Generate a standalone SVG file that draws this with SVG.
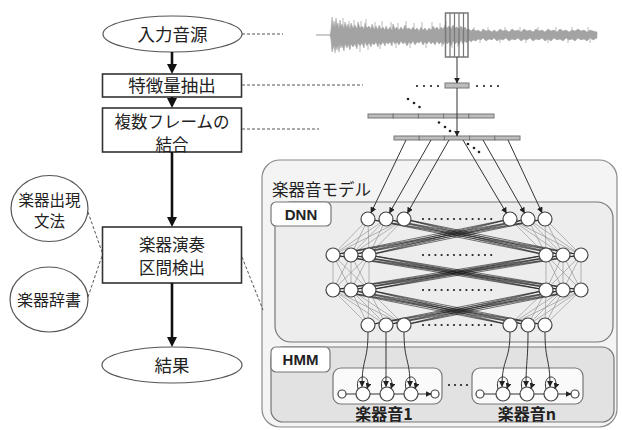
<svg xmlns="http://www.w3.org/2000/svg" width="622" height="430" viewBox="0 0 622 430">
<style>
  .jp{font-family:"Noto Sans CJK JP","Noto Sans CJK SC",sans-serif;fill:#222}
  .lbl{font-family:"Liberation Sans",Arial,sans-serif;font-weight:bold;fill:#222}
  .box{fill:#fff;stroke:#333;stroke-width:1.6}
  .oval{fill:#fff;stroke:#555;stroke-width:1.2}
  .flow{stroke:#111;stroke-width:2.6;fill:none}
  .dash{stroke:#555;stroke-width:1;stroke-dasharray:3 2;fill:none}
  .thin{stroke:#8a8a8a;stroke-width:0.6;fill:none}
  .band{stroke:#1a1a1a;stroke-width:1;stroke-opacity:0.6;fill:none}
  .nd{fill:#fff;stroke:#444;stroke-width:1.2}
  .arr{stroke:#333;stroke-width:1;fill:none}
  .dots{stroke:#222;stroke-width:2.2;stroke-linecap:round;stroke-dasharray:0 6.2;fill:none}
  .seg{fill:#bdbdbd;stroke:#777;stroke-width:1}
</style>
<defs>
  <marker id="big" viewBox="0 0 10 10" refX="5" refY="5" markerWidth="10" markerHeight="10" markerUnits="userSpaceOnUse" orient="auto">
    <path d="M0,0 L10,5 L0,10 z" fill="#111"/>
  </marker>
  <marker id="sm" viewBox="0 0 10 10" refX="9" refY="5" markerWidth="6" markerHeight="6" markerUnits="userSpaceOnUse" orient="auto">
    <path d="M0,0 L10,5 L0,10 z" fill="#222"/>
  </marker>
</defs>

<!-- flowchart on the left -->
<g id="n-input">
  <ellipse class="oval" cx="172.5" cy="34" rx="69.5" ry="18"/>
  <text class="jp" x="172.5" y="40.5" font-size="17.5" text-anchor="middle">入力音源</text>
</g>
<g id="n-feature">
  <rect class="box" x="102.5" y="74" width="139" height="23"/>
  <text class="jp" x="172" y="92" font-size="17.5" text-anchor="middle">特徴量抽出</text>
</g>
<g id="n-concat">
  <rect class="box" x="102.5" y="108" width="139" height="44"/>
  <text class="jp" x="172" y="128" font-size="16.5" text-anchor="middle">複数フレームの</text>
  <text class="jp" x="172" y="151" font-size="16.5" text-anchor="middle">結合</text>
</g>
<g id="n-detect">
  <rect class="box" x="102.5" y="227" width="139" height="56"/>
  <text class="jp" x="172" y="251" font-size="16.5" text-anchor="middle">楽器演奏</text>
  <text class="jp" x="172" y="274" font-size="16.5" text-anchor="middle">区間検出</text>
</g>
<g id="n-result">
  <ellipse class="oval" cx="172" cy="365" rx="70" ry="18"/>
  <text class="jp" x="172" y="372" font-size="17.5" text-anchor="middle">結果</text>
</g>
<g id="n-grammar">
  <ellipse class="oval" cx="49.5" cy="208.5" rx="38.5" ry="33"/>
  <text class="jp" x="49.5" y="206" font-size="15.5" text-anchor="middle">楽器出現</text>
  <text class="jp" x="49.5" y="227" font-size="15.5" text-anchor="middle">文法</text>
</g>
<g id="n-dict">
  <ellipse class="oval" cx="49" cy="299.5" rx="39" ry="32.5"/>
  <text class="jp" x="49" y="306" font-size="16" text-anchor="middle">楽器辞書</text>
</g>

<!-- waveform of the input signal -->
<g id="n-wave">
  <line x1="316" y1="35" x2="331" y2="35" stroke="#999" stroke-width="1"/>
  <path fill="#a3a3a3" stroke="#a3a3a3" stroke-width="0.5" d="M330 35 L331 30 332 17 333 27 334 21 335 28 336 18 337 26 338 23 339 29 340 20 341 27 342 24 344 28 345 22 347 28 348 24 350 29 351 23 353 28 355 25 357 29 358 22 360 28 362 26 364 29 365 23 367 28 369 26 371 29 372 24 374 29 376 26 378 30 379 25 381 29 383 27 385 30 386 26 388 30 390 27 392 30 393 24 395 29 397 27 399 30 401 27 403 30 405 25 407 29 409 28 411 30 413 27 415 30 417 28 419 31 421 27 423 30 425 28 427 31 429 28 431 30 433 26 435 29 437 27 439 30 441 27 443 29 445 25 447 28 449 26 451 29 453 25 455 28 457 27 459 29 461 26 463 29 465 27 467 30 469 29 471 31 473 29 476 31 478 30 481 32 483 29 486 31 489 30 492 32 494 30 497 32 500 29 503 31 506 30 509 32 512 29 515 31 518 30 521 32 524 29 527 31 530 30 533 32 536 29 539 31 542 30 545 32 548 29 551 31 554 30 557 32 560 29 563 31 566 30 569 32 572 30 575 31 578 29 581 31 584 30 587 32 590 30 593 31 597 32 597 38 593 40 590 38 587 41 584 39 581 40 578 38 575 41 572 39 569 40 566 38 563 41 560 39 557 40 554 38 551 41 548 39 545 41 542 38 539 40 536 39 533 41 530 38 527 40 524 39 521 41 518 38 515 40 512 39 509 41 506 38 503 40 500 39 497 41 494 38 492 40 489 39 486 41 483 38 481 40 478 39 476 41 473 40 471 42 469 40 467 43 465 41 463 44 461 40 459 45 457 42 455 44 453 41 451 46 449 42 447 44 445 41 443 45 441 42 439 44 437 41 435 45 433 42 431 44 429 41 427 44 425 42 423 45 421 41 419 43 417 42 415 45 413 41 411 44 409 42 407 46 405 42 403 44 401 41 399 45 397 42 395 44 393 41 392 46 390 42 388 44 386 42 385 46 383 42 381 45 379 43 378 47 376 42 374 45 372 43 371 47 369 43 367 46 365 42 364 48 362 43 360 46 358 43 357 49 355 44 353 47 351 44 350 50 348 44 347 48 345 44 344 51 342 45 341 48 340 44 339 52 338 45 337 50 336 46 335 53 334 45 333 49 332 52 331 40 Z"/>
  <path stroke="#a8a8a8" stroke-width="0.8" fill="none" d="M343 18V26 M349 21V27 M354 20V26 M361 21V27 M366 19V25 M375 22V27 M382 21V27 M391 22V28 M398 23V28 M406 21V27 M414 23V29 M422 22V28 M432 22V28 M440 23V29 M446 21V27 M452 48V43 M360 52V45 M368 50V45 M380 49V44 M396 48V43 M410 48V43 M426 48V43 M442 47V42 M458 47V42 M474 27V31 M488 27V31 M505 27V31 M520 27V31 M538 27V31 M556 27V31 M572 27V31 M588 27V31 M480 43V39 M500 43V39 M526 43V39 M548 43V39 M568 43V39 M590 43V39"/>
  <rect x="445.5" y="13" width="22.5" height="44" fill="none" stroke="#777" stroke-width="1.5"/>
  <path stroke="#777" stroke-width="1.2" d="M450 13V57 M454.5 13V57 M459 13V57 M463.5 13V57"/>
</g>

<!-- feature vectors and frame concatenation -->
<g id="n-frames">
  <rect class="seg" x="445" y="83" width="24" height="5"/>
  <line class="dots" x1="417" y1="86" x2="439" y2="86" style="stroke-dasharray:0 7"/>
  <line class="dots" x1="477" y1="86" x2="499" y2="86" style="stroke-dasharray:0 7"/>
  <g>
    <rect class="seg" x="368" y="114" width="25.2" height="4"/>
    <rect class="seg" x="393.2" y="114" width="25.2" height="4"/>
    <rect class="seg" x="418.4" y="114" width="25.2" height="4"/>
    <rect class="seg" x="443.6" y="114" width="25.2" height="4"/>
    <rect class="seg" x="468.8" y="114" width="25.2" height="4"/>
  </g>
  <g>
    <rect class="seg" x="394" y="136" width="25.2" height="4"/>
    <rect class="seg" x="419.2" y="136" width="25.2" height="4"/>
    <rect class="seg" x="444.4" y="136" width="25.2" height="4"/>
    <rect class="seg" x="469.6" y="136" width="25.2" height="4"/>
    <rect class="seg" x="494.8" y="136" width="25.2" height="4"/>
  </g>
  <g fill="#222">
    <circle cx="408" cy="99" r="1.3"/><circle cx="414" cy="103" r="1.3"/><circle cx="419.5" cy="107" r="1.3"/>
    <circle cx="439" cy="122.5" r="1.3"/><circle cx="445" cy="127" r="1.3"/><circle cx="450" cy="131" r="1.3"/>
    <circle cx="468" cy="144" r="1.3"/><circle cx="474" cy="148" r="1.3"/><circle cx="479" cy="152" r="1.3"/>
  </g>
</g>

<!-- instrument sound model -->
<g id="n-model">
  <rect x="262" y="160" width="355" height="267" rx="18" fill="#f4f4f4" stroke="#8a8a8a" stroke-width="1.2"/>
  <text class="jp" x="272" y="196" font-size="16.5">楽器音モデル</text>
</g>

<g id="n-dnn">
  <rect x="275" y="202" width="338" height="140" rx="16" fill="#ededed" stroke="#777" stroke-width="1.2"/>
  <rect x="271" y="202" width="60" height="24" rx="5" fill="#fff" stroke="#777" stroke-width="1.2"/>
  <text class="lbl" x="301" y="219.5" font-size="15" text-anchor="middle">DNN</text>
  <!-- connections inside each side -->
  <path class="thin" d="M368 219L333 255M368 219L351 255M368 219L369 255M386 219L333 255M386 219L351 255M386 219L369 255M404 219L333 255M404 219L351 255M404 219L369 255
    M510 219L546 255M510 219L563 255M510 219L581 255M528 219L546 255M528 219L563 255M528 219L581 255M545 219L546 255M545 219L563 255M545 219L581 255
    M333 255L333 290M333 255L351 290M333 255L369 290M351 255L333 290M351 255L351 290M351 255L369 290M369 255L333 290M369 255L351 290M369 255L369 290
    M546 255L546 290M546 255L563 290M546 255L581 290M563 255L546 290M563 255L563 290M563 255L581 290M581 255L546 290M581 255L563 290M581 255L581 290
    M333 290L368 325M333 290L386 325M333 290L404 325M351 290L368 325M351 290L386 325M351 290L404 325M369 290L368 325M369 290L386 325M369 290L404 325
    M546 290L510 325M546 290L528 325M546 290L545 325M563 290L510 325M563 290L528 325M563 290L545 325M581 290L510 325M581 290L528 325M581 290L545 325"/>
  <!-- crossing connections between sides -->
  <path class="band" d="M368 219L546 255M368 219L563 255M368 219L581 255M386 219L546 255M386 219L563 255M386 219L581 255M404 219L546 255M404 219L563 255M404 219L581 255
    M510 219L333 255M510 219L351 255M510 219L369 255M528 219L333 255M528 219L351 255M528 219L369 255M545 219L333 255M545 219L351 255M545 219L369 255
    M333 255L546 290M333 255L563 290M333 255L581 290M351 255L546 290M351 255L563 290M351 255L581 290M369 255L546 290M369 255L563 290M369 255L581 290
    M546 255L333 290M546 255L351 290M546 255L369 290M563 255L333 290M563 255L351 290M563 255L369 290M581 255L333 290M581 255L351 290M581 255L369 290
    M333 290L510 325M333 290L528 325M333 290L545 325M351 290L510 325M351 290L528 325M351 290L545 325M369 290L510 325M369 290L528 325M369 290L545 325
    M546 290L368 325M546 290L386 325M546 290L404 325M563 290L368 325M563 290L386 325M563 290L404 325M581 290L368 325M581 290L386 325M581 290L404 325"/>
  <g>
    <circle class="nd" cx="368" cy="219" r="7"/><circle class="nd" cx="386" cy="219" r="7"/><circle class="nd" cx="404" cy="219" r="7"/>
    <circle class="nd" cx="510" cy="219" r="7"/><circle class="nd" cx="528" cy="219" r="7"/><circle class="nd" cx="545" cy="219" r="7"/>
    <circle class="nd" cx="333" cy="255" r="7"/><circle class="nd" cx="351" cy="255" r="7"/><circle class="nd" cx="369" cy="255" r="7"/>
    <circle class="nd" cx="546" cy="255" r="7"/><circle class="nd" cx="563" cy="255" r="7"/><circle class="nd" cx="581" cy="255" r="7"/>
    <circle class="nd" cx="333" cy="290" r="7"/><circle class="nd" cx="351" cy="290" r="7"/><circle class="nd" cx="369" cy="290" r="7"/>
    <circle class="nd" cx="546" cy="290" r="7"/><circle class="nd" cx="563" cy="290" r="7"/><circle class="nd" cx="581" cy="290" r="7"/>
    <circle class="nd" cx="368" cy="325" r="7"/><circle class="nd" cx="386" cy="325" r="7"/><circle class="nd" cx="404" cy="325" r="7"/>
    <circle class="nd" cx="510" cy="325" r="7"/><circle class="nd" cx="528" cy="325" r="7"/><circle class="nd" cx="545" cy="325" r="7"/>
  </g>
  <line class="dots" x1="423" y1="219" x2="492" y2="219"/>
  <line class="dots" x1="423" y1="255" x2="492" y2="255"/>
  <line class="dots" x1="423" y1="290" x2="492" y2="290"/>
  <line class="dots" x1="423" y1="325" x2="492" y2="325"/>
</g>

<g id="n-hmm">
  <rect x="271" y="347" width="343" height="75" rx="12" fill="#e2e2e2" stroke="#777" stroke-width="1.2"/>
  <rect x="271" y="347" width="59" height="25" rx="5" fill="#fff" stroke="#777" stroke-width="1.2"/>
  <text class="lbl" x="300.5" y="365" font-size="15" text-anchor="middle">HMM</text>
  <line class="dots" x1="449" y1="385" x2="468" y2="385" style="stroke-dasharray:0 6"/>
</g>

<g id="n-hmm1">
  <rect x="333" y="368" width="109" height="36" rx="8" fill="#fafafa" stroke="#777" stroke-width="1.2"/>
  <circle class="nd" cx="342" cy="394" r="4"/>
  <circle class="nd" cx="363" cy="394" r="7"/>
  <circle class="nd" cx="387" cy="394" r="7"/>
  <circle class="nd" cx="411" cy="394" r="7"/>
  <circle class="nd" cx="435" cy="394" r="4"/>
  <path class="arr" marker-end="url(#sm)" d="M346 394H356 M370 394H380 M394 394H404 M418 394H431"/>
  <path class="arr" marker-end="url(#sm)" d="M358 389C354 373 372 373 367 388.5"/>
  <path class="arr" marker-end="url(#sm)" d="M382 389C378 373 396 373 391 388.5"/>
  <path class="arr" marker-end="url(#sm)" d="M406 389C402 373 420 373 415 388.5"/>
  <text class="jp" x="384" y="419.5" font-size="16" font-weight="bold" text-anchor="middle">楽器音1</text>
</g>

<g id="n-hmmn">
  <rect x="472" y="368" width="111" height="36" rx="8" fill="#fafafa" stroke="#777" stroke-width="1.2"/>
  <circle class="nd" cx="480" cy="394" r="4"/>
  <circle class="nd" cx="503" cy="394" r="7"/>
  <circle class="nd" cx="527" cy="394" r="7"/>
  <circle class="nd" cx="551" cy="394" r="7"/>
  <circle class="nd" cx="575" cy="394" r="4"/>
  <path class="arr" marker-end="url(#sm)" d="M484 394H496 M510 394H520 M534 394H544 M558 394H571"/>
  <path class="arr" marker-end="url(#sm)" d="M498 389C494 373 512 373 507 388.5"/>
  <path class="arr" marker-end="url(#sm)" d="M522 389C518 373 536 373 531 388.5"/>
  <path class="arr" marker-end="url(#sm)" d="M546 389C542 373 560 373 555 388.5"/>
  <text class="jp" x="527" y="419.5" font-size="16" font-weight="bold" text-anchor="middle">楽器音n</text>
</g>

<!-- connectors -->
<g id="connectors">
  <line class="flow" x1="172" y1="52" x2="172" y2="69" marker-end="url(#big)"/>
  <line class="flow" x1="172" y1="97" x2="172" y2="103" marker-end="url(#big)"/>
  <line class="flow" x1="172" y1="152" x2="172" y2="222" marker-end="url(#big)"/>
  <line class="flow" x1="172" y1="283" x2="172" y2="342" marker-end="url(#big)"/>

  <line class="dash" x1="242" y1="34" x2="283" y2="34"/>
  <line class="dash" x1="242" y1="85" x2="363" y2="85"/>
  <line class="dash" x1="242" y1="129" x2="319" y2="129"/>
  <line class="dash" x1="88" y1="212" x2="102" y2="252"/>
  <line class="dash" x1="88" y1="297" x2="102" y2="256"/>
  <line class="dash" x1="242" y1="257" x2="263" y2="310"/>

  <line class="arr" stroke="#555" x1="457" y1="57" x2="457" y2="83" marker-end="url(#sm)"/>
  <line class="arr" stroke="#555" x1="457" y1="88" x2="457" y2="136" marker-end="url(#sm)"/>

  <line class="arr" x1="406" y1="140" x2="371" y2="212.7" marker-end="url(#sm)"/>
  <line class="arr" x1="431" y1="140" x2="389.5" y2="212.9" marker-end="url(#sm)"/>
  <line class="arr" x1="449" y1="140" x2="407.5" y2="212.9" marker-end="url(#sm)"/>
  <line class="arr" x1="463" y1="140" x2="506.4" y2="213" marker-end="url(#sm)"/>
  <line class="arr" x1="483" y1="140" x2="524.5" y2="212.9" marker-end="url(#sm)"/>
  <line class="arr" x1="508" y1="140" x2="542" y2="212.7" marker-end="url(#sm)"/>

  <path class="arr" marker-end="url(#sm)" d="M368 332C368 362 362 358 362 386.5"/>
  <path class="arr" marker-end="url(#sm)" d="M386 332C386 360 386 362 386 386.5"/>
  <path class="arr" marker-end="url(#sm)" d="M404 332C404 362 410 358 410 386.5"/>
  <path class="arr" marker-end="url(#sm)" d="M510 332C510 362 502 358 502 386.5"/>
  <path class="arr" marker-end="url(#sm)" d="M528 332C528 360 526 362 526 386.5"/>
  <path class="arr" marker-end="url(#sm)" d="M545 332C545 362 550 358 550 386.5"/>
</g>
</svg>
